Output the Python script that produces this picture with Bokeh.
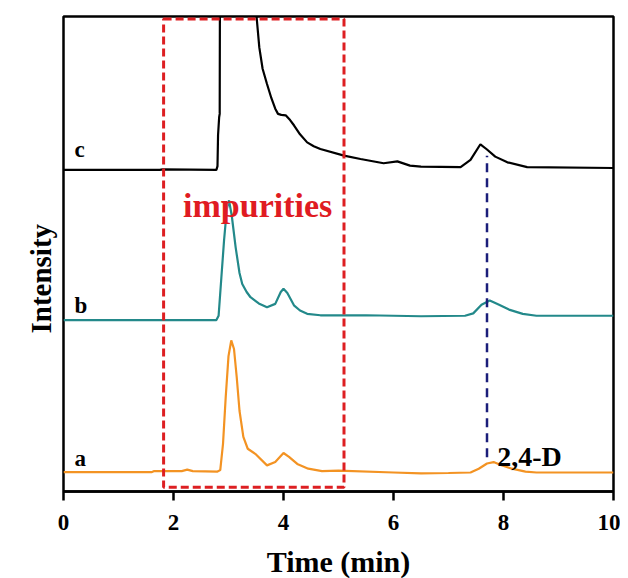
from bokeh.plotting import figure
from bokeh.models import FixedTicker, Range1d, Title
from bokeh.embed import file_html
from bokeh.resources import INLINE
from bokeh.core.properties import value

# ---- data ----
time_a = [0, 1.6, 1.65, 2.15, 2.25, 2.35, 2.8, 2.85, 2.9, 2.95, 3.0, 3.05, 3.1, 3.15, 3.2, 3.27,
          3.35, 3.5, 3.7, 3.85, 4.0, 4.1, 4.25, 4.45, 4.7, 5.0, 6.0, 6.5, 7.0, 7.4, 7.55, 7.7,
          7.82, 7.95, 8.15, 8.4, 8.6, 10]
intensity_a = [4.06, 4.06, 4.3, 4.3, 4.6, 4.3, 4.2, 4.5, 10, 20, 28.5, 31.8, 30, 24, 17, 11.5,
               9.0, 7.8, 5.5, 6.2, 8.1, 7.3, 5.8, 4.8, 4.3, 4.4, 4.0, 3.8, 3.9, 4.0, 4.8, 5.9,
               6.2, 5.6, 4.8, 4.2, 4.0, 4.0]

time_b = [0, 2.78, 2.82, 2.87, 2.92, 2.97, 3.01, 3.06, 3.13, 3.2, 3.25, 3.33, 3.4, 3.55, 3.7,
          3.85, 3.95, 4.0, 4.07, 4.19, 4.3, 4.43, 4.67, 5.5, 6.5, 7.3, 7.45, 7.6, 7.75, 7.9,
          8.1, 8.35, 8.6, 10]
intensity_b = [36.1, 36.1, 37, 45, 53, 59.5, 61.3, 58, 51.4, 46, 43.7, 42, 40.9, 39.6, 38.8,
               39.5, 42, 42.7, 41.8, 39.2, 38.1, 37.4, 37.1, 37.1, 36.9, 37.0, 37.5, 39.3, 40.2,
               39.4, 38.3, 37.4, 37.0, 37.0]

time_c = [0, 1.75, 1.8, 2.78, 2.8, 2.81, 2.83, 2.84, 2.845, 3.49, 3.51, 3.56, 3.62, 3.7, 3.78,
          3.85, 3.9, 3.96, 4.04, 4.12, 4.19, 4.3, 4.43, 4.55, 4.67, 5.1, 5.4, 5.82, 6.07, 6.3,
          6.5, 7.22, 7.4, 7.58, 7.7, 7.85, 8.07, 8.43, 10]
intensity_c = [67.7, 67.7, 67.8, 67.7, 68.5, 75, 78.8, 79.5, 110, 110, 100, 93.5, 89.0, 85.8,
               82.8, 80.6, 79.5, 79.3, 79.2, 78.2, 77.1, 75.2, 73.5, 72.7, 72.1, 70.7, 70.0,
               69.1, 69.5, 68.6, 68.4, 68.3, 69.8, 73.1, 72.0, 70.5, 69.3, 68.3, 68.1]

trace_labels = ["a", "b", "c"]
label_time = [0.2, 0.2, 0.2]
label_intensity = [6.9, 39.2, 72.0]

impurity_box_left = [1.82]
impurity_box_right = [5.1]
impurity_box_bottom = [0.9]
impurity_box_top = [99.5]
impurity_text = ["impurities"]
impurity_text_time = [3.53]
impurity_text_intensity = [60.2]

marker_time = [7.70, 7.70]
marker_intensity = [7.2, 70.7]
marker_text = ["2,4-D"]
marker_text_time = [7.885]
marker_text_intensity = [7.4]

x_ticks = [0, 2, 4, 6, 8, 10]
y_title = "Intensity"

SERIF = "Liberation Serif"

p = figure(width=620, height=570, output_backend="svg", toolbar_location=None,
           x_range=Range1d(0, 10), y_range=Range1d(0, 100),
           frame_width=550, frame_height=475,
           min_border_left=63, min_border_right=7, min_border_top=16, min_border_bottom=10)

p.background_fill_color = "white"
p.border_fill_color = "white"
p.outline_line_color = "black"
p.outline_line_width = 2.5
p.xgrid.visible = False
p.ygrid.visible = False

# traces
p.line(time_a, intensity_a, line_color="#F39323", line_width=2.2)
p.line(time_b, intensity_b, line_color="#23898A", line_width=2.2)
p.line(time_c, intensity_c, line_color="black", line_width=2.2)

# impurities box
p.quad(left=impurity_box_left, right=impurity_box_right, bottom=impurity_box_bottom,
       top=impurity_box_top, fill_alpha=0, line_color="#DD1F22", line_width=3, line_dash="8 4")

# 2,4-D marker line
p.line(marker_time, marker_intensity, line_color="#1B1E7A", line_width=2.5, line_dash="9 6")

# texts
p.text(label_time, label_intensity, text=trace_labels, text_font=value(SERIF),
       text_font_style="bold", text_font_size="23px", text_color="black",
       text_baseline="alphabetic", text_align="left")
p.text(impurity_text_time, impurity_text_intensity, text=impurity_text, text_font=value(SERIF),
       text_font_style="bold", text_font_size="34px", text_color="#E01B22",
       text_baseline="alphabetic", text_align="center")
p.text(marker_text_time, marker_text_intensity, text=marker_text, text_font=value(SERIF),
       text_font_style="bold", text_font_size="28px", text_color="black",
       text_baseline="alphabetic", text_align="left")

# x axis
xa = p.xaxis[0]
xa.ticker = FixedTicker(ticks=x_ticks)
xa.axis_line_width = 2.5
xa.axis_line_color = "black"
xa.major_tick_line_width = 2.5
xa.major_tick_in = 0
xa.major_tick_out = 9
xa.minor_tick_line_color = None
xa.major_label_text_font = SERIF
xa.major_label_text_font_style = "bold"
xa.major_label_text_font_size = "23px"
xa.major_label_text_color = "black"
xa.major_label_standoff = 14
xa.axis_label = "Time (min)"
xa.axis_label_text_font = SERIF
xa.axis_label_text_font_style = "bold"
xa.axis_label_text_font_size = "30px"
xa.axis_label_text_color = "black"
xa.axis_label_standoff = 12

# y axis: the frame outline draws its line; the title is a side title
p.yaxis.visible = False

p.add_layout(Title(text=y_title, align="left", offset=158, text_font=SERIF,
                   text_font_style="bold", text_font_size="29px", text_color="black",
                   standoff=14), "left")

open("out.html", "w").write(file_html(p, INLINE))
